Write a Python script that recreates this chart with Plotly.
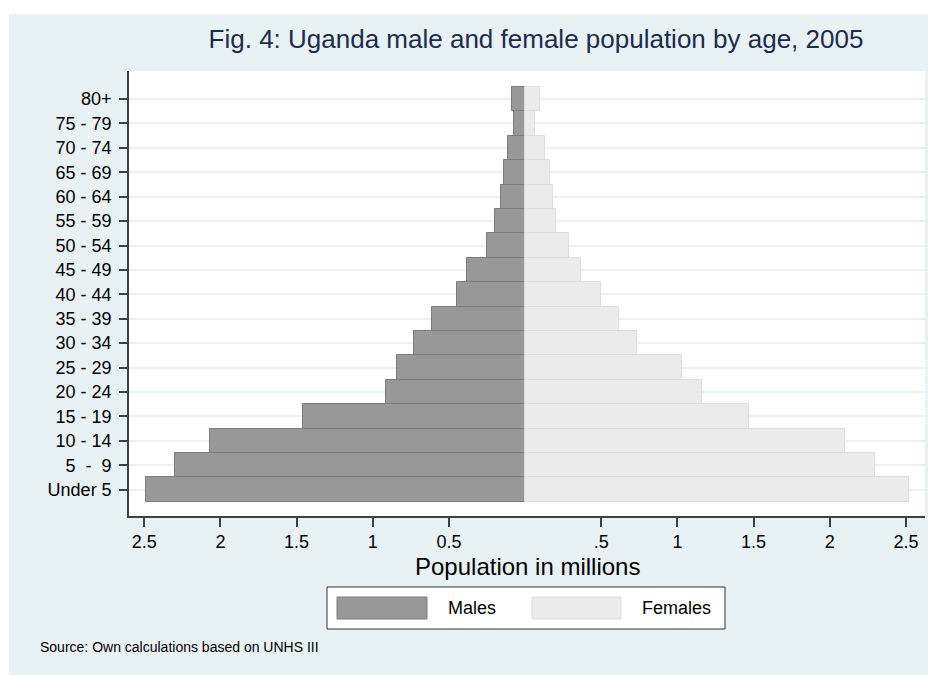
import plotly.graph_objects as go

# Data (population in millions)
age_groups = ["Under 5", "5\u00a0\u00a0-\u00a0\u00a09", "10 - 14", "15 - 19", "20 - 24", "25 - 29",
              "30 - 34", "35 - 39", "40 - 44", "45 - 49", "50 - 54", "55 - 59",
              "60 - 64", "65 - 69", "70 - 74", "75 - 79", "80+"]
males = [2.49, 2.30, 2.07, 1.46, 0.91, 0.84, 0.73, 0.61, 0.45, 0.38,
         0.25, 0.20, 0.16, 0.14, 0.115, 0.075, 0.085]
females = [2.52, 2.30, 2.10, 1.47, 1.16, 1.03, 0.735, 0.615, 0.50, 0.37,
           0.29, 0.205, 0.18, 0.165, 0.13, 0.066, 0.096]
x_tickvals = [-2.5, -2, -1.5, -1, -0.5, 0.5, 1, 1.5, 2, 2.5]
x_ticktext = ["2.5", "2", "1.5", "1", "0.5", ".5", "1", "1.5", "2", "2.5"]

BG = "#e8f1f3"
MALE = "#989898"
FEMALE = "#ebebeb"
FONT = "Arial, Liberation Sans, sans-serif"

W, H = 936, 675
OFF = 8  # page body margin; positions below were measured in page pixels
ML, MR, MT, MB = 121, 19, 63, 167
PW, PH = W - ML - MR, H - MT - MB


def px(x):
    return (x - OFF - ML) / PW


def py(y):
    return (H - MB - (y - OFF)) / PH


pos = list(range(len(age_groups)))

fig = go.Figure()
fig.add_trace(go.Bar(y=pos, x=[-v for v in males], orientation="h", name="Males",
                     marker=dict(color=MALE, line=dict(color="#7c7c7c", width=1)),
                     customdata=males, hovertemplate="%{customdata}<extra>Males</extra>"))
fig.add_trace(go.Bar(y=pos, x=females, orientation="h", name="Females",
                     marker=dict(color=FEMALE, line=dict(color="#dedede", width=1)),
                     hovertemplate="%{x}<extra>Females</extra>"))

shapes = [
    # graph region background (small white margin top/left)
    dict(type="rect", xref="paper", yref="paper", x0=px(9), x1=px(W + 20), y0=py(H + 20), y1=py(14),
         fillcolor=BG, line=dict(width=0), layer="below"),
    dict(type="rect", xref="paper", yref="paper", x0=0, x1=1, y0=0, y1=1,
         fillcolor="white", line=dict(width=0), layer="below"),
    # legend box and swatches
    dict(type="rect", xref="paper", yref="paper", x0=px(327), x1=px(725), y0=py(629), y1=py(587),
         fillcolor="white", line=dict(color="#333333", width=1)),
    dict(type="rect", xref="paper", yref="paper", x0=px(337), x1=px(427), y0=py(619), y1=py(597),
         fillcolor=MALE, line=dict(color="#7c7c7c", width=1)),
    dict(type="rect", xref="paper", yref="paper", x0=px(532), x1=px(621), y0=py(619), y1=py(597),
         fillcolor=FEMALE, line=dict(color="#dedede", width=1)),
]

annotations = [
    dict(text="Population in millions", xref="paper", yref="paper", x=px(527), y=py(566),
         xanchor="center", yanchor="middle", showarrow=False, font=dict(size=24, color="black")),
    dict(text="Males", xref="paper", yref="paper", x=px(446), y=py(608), xanchor="left",
         yanchor="middle", showarrow=False, font=dict(size=18, color="black")),
    dict(text="Females", xref="paper", yref="paper", x=px(640), y=py(608), xanchor="left",
         yanchor="middle", showarrow=False, font=dict(size=18, color="black")),
    dict(text="Source: Own calculations based on UNHS III", xref="paper", yref="paper",
         x=px(38), y=py(647), xanchor="left", yanchor="middle", showarrow=False,
         font=dict(size=14, color="black")),
]

fig.update_layout(
    width=W, height=H,
    margin=dict(l=ML, r=MR, t=MT, b=MB),
    paper_bgcolor="white", plot_bgcolor="rgba(0,0,0,0)",
    barmode="relative", bargap=0,
    showlegend=False,
    font=dict(family=FONT, color="black"),
    title=dict(text="Fig. 4: Uganda male and female population by age, 2005",
               x=(536 - OFF) / W, y=1 - (39 - OFF) / H, xanchor="center", yanchor="middle",
               font=dict(size=26, color="#1c2b50")),
    shapes=shapes, annotations=annotations,
    xaxis=dict(range=[-2.6, 2.625], tickvals=x_tickvals, ticktext=x_ticktext,
               showgrid=False, zeroline=False, showline=True, linecolor="#404040", linewidth=1.5,
               ticks="outside", ticklen=9, tickcolor="#404040", tickwidth=1.5,
               tickfont=dict(size=18)),
    yaxis=dict(range=[-1.08, 17.15], tickvals=pos, ticktext=age_groups,
               showgrid=True, gridcolor=BG, gridwidth=2, zeroline=False,
               showline=True, linecolor="#404040", linewidth=1.5,
               ticks="outside", ticklen=8, tickcolor="#404040", tickwidth=1.5,
               tickfont=dict(size=18), ticklabelstandoff=4),
)

fig.write_html("out.html")
